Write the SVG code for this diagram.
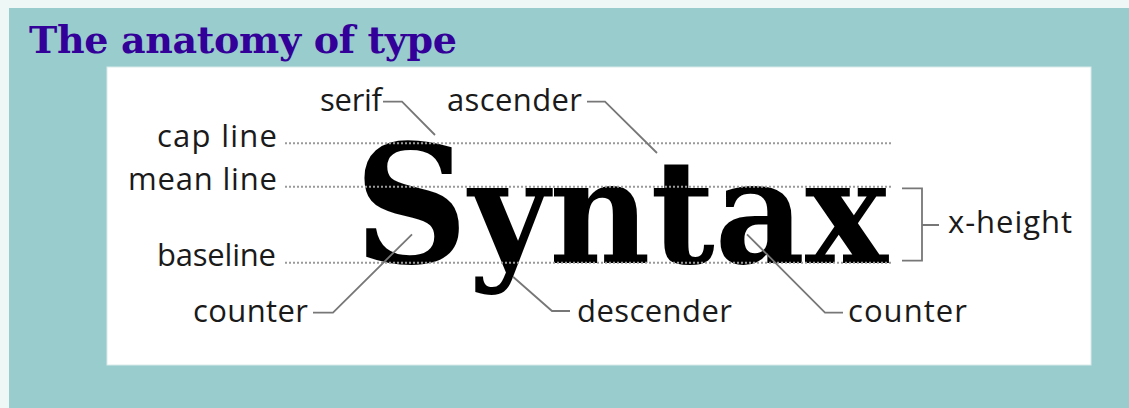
<svg xmlns="http://www.w3.org/2000/svg" width="1129" height="408" viewBox="0 0 1129 408">
<style>
.lbl{font-family:"Open Sans","Noto Sans",sans-serif;font-size:31px;fill:#1a1a1a}
.end{text-anchor:end}
.guide{stroke:#9a9a9a;stroke-width:2;stroke-dasharray:2 2;fill:none}
.conn{stroke:#777;stroke-width:1.8;fill:none}
</style>
<rect x="0" y="0" width="1129" height="408" fill="#eef6f6"/>
<rect x="9" y="8" width="1120" height="400" fill="#99cccc"/>
<text id="title" x="29" y="53" font-family="'DejaVu Serif','Liberation Serif',serif" font-weight="bold" font-size="38" fill="#330099" textLength="428">The anatomy of type</text>
<rect id="panel" x="107" y="67" width="984" height="298" fill="#ffffff" stroke="#dbe9e9" stroke-width="1"/>
<g id="word">
<text transform="translate(354,263) scale(0.96,1)" font-family="'DejaVu Serif',serif" font-weight="bold" fill="#000"><tspan font-size="165">S</tspan><tspan font-size="145">yntax</tspan></text>
</g>
<g id="guides">
<line class="guide" x1="285" y1="143.3" x2="892" y2="143.3"/>
<line class="guide" x1="285" y1="186.7" x2="892" y2="186.7"/>
<line class="guide" x1="285" y1="262.7" x2="892" y2="262.7"/>
</g>
<g id="connectors">
<path class="conn" d="M383,101.7 H402 L435,135"/>
<path class="conn" d="M587,101.7 H605 L657,153"/>
<path class="conn" d="M313,312.7 H333 L412,234.3"/>
<path class="conn" d="M570,311 H552 L513,276.7"/>
<path class="conn" d="M747,234.3 L825,312.7 H843"/>
<path class="conn" d="M902,188.3 H922 V260.7 H902 M922,225 H939"/>
</g>
<g id="label-capline"><text class="lbl end" x="277" y="147" textLength="120">cap line</text></g>
<g id="label-meanline"><text class="lbl end" x="277" y="190" textLength="149">mean line</text></g>
<g id="label-baseline"><text class="lbl end" x="276" y="266" textLength="119">baseline</text></g>
<g id="label-counter-left"><text class="lbl end" x="308" y="322" textLength="115">counter</text></g>
<g id="label-serif"><text class="lbl" x="320" y="111" textLength="62">serif</text></g>
<g id="label-ascender"><text class="lbl" x="447" y="111" textLength="135">ascender</text></g>
<g id="label-descender"><text class="lbl" x="577" y="322" textLength="155">descender</text></g>
<g id="label-counter-right"><text class="lbl" x="848" y="322" textLength="119">counter</text></g>
<g id="label-xheight"><text class="lbl" x="948" y="233" textLength="124">x-height</text></g>
</svg>
